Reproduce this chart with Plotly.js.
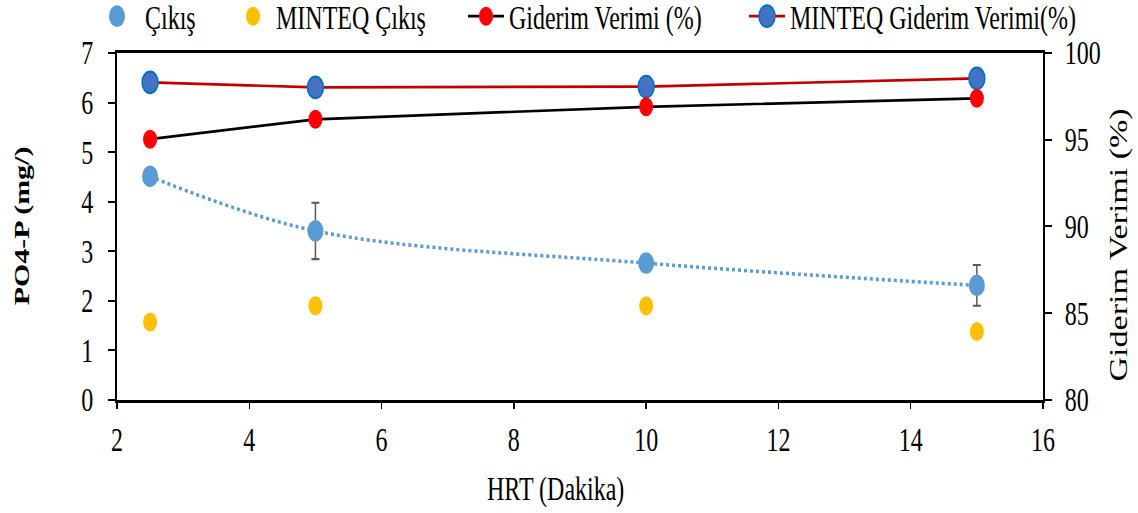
<!DOCTYPE html>
<html>
<head>
<meta charset="utf-8">
<script src="https://cdn.plot.ly/plotly-3.0.1.min.js"></script>
<style>
  html, body { margin: 0; padding: 0; background: #ffffff; }
  #wrap { width: 1138px; height: 513px; overflow: hidden; }
  #plot { width: 1138px; height: 377px; transform: scaleY(1.36); transform-origin: 0 0; }
</style>
</head>
<body>
<div id="wrap"><div id="plot"></div></div>
<script>
// ---- data ----
const hrt = [2.5, 5, 10, 15];
const cikis = [4.51, 3.41, 2.76, 2.31];
const cikisErr = [0, 0.57, 0.15, 0.41];
const minteqCikis = [1.57, 1.90, 1.90, 1.38];
const giderimVerimi = [95.03, 96.18, 96.90, 97.39];
const minteqGiderimVerimi = [98.31, 98.02, 98.06, 98.54];

const seriesNames = ["Çıkış", "MINTEQ Çıkış", "Giderim Verimi (%)", "MINTEQ Giderim Verimi(%)"];
const xTitle = "HRT (Dakika)";
const yTitle = "PO4-P (mg/)";
const y2Title = "Giderim Verimi (%)";

const FONT = '"Liberation Serif", "Times New Roman", Times, serif';

const traces = [
  { // smoothed dotted line of Çıkış
    x: hrt, y: cikis, type: 'scatter', mode: 'lines',
    line: { color: '#5B9BD5', width: 2.6, dash: 'dot', shape: 'spline' },
    showlegend: false, hoverinfo: 'skip'
  },
  {
    x: hrt, y: cikis, type: 'scatter', mode: 'markers', name: seriesNames[0],
    marker: { color: '#5B9BD5', size: 16 },
    error_y: { type: 'data', array: cikisErr, visible: true, color: '#595959', thickness: 1.5, width: 4 },
    legend: 'legend'
  },
  {
    x: hrt, y: minteqCikis, type: 'scatter', mode: 'markers', name: seriesNames[1],
    marker: { color: '#FFC000', size: 14 },
    legend: 'legend2'
  },
  {
    x: hrt, y: minteqGiderimVerimi, type: 'scatter', mode: 'lines+markers', name: seriesNames[3],
    yaxis: 'y2',
    line: { color: '#C00000', width: 2 },
    marker: { color: '#4472C4', size: 16, line: { color: '#0070C0', width: 1.5 } },
    legend: 'legend4'
  },
  {
    x: hrt, y: giderimVerimi, type: 'scatter', mode: 'lines+markers', name: seriesNames[2],
    yaxis: 'y2',
    line: { color: '#000000', width: 2 },
    marker: { color: '#FF0000', size: 14 },
    legend: 'legend3'
  }
];

function leg(xpx, iw) {
  return {
    xref: 'container', yref: 'container',
    x: xpx / 1138, y: 1 - 12.3 / 377, xanchor: 'left', yanchor: 'middle',
    orientation: 'h', bgcolor: 'rgba(0,0,0,0)', borderwidth: 0,
    itemwidth: iw, font: { family: FONT, size: 24, color: '#000' }
  };
}

const layout = {
  width: 1138, height: 377,
  margin: { l: 117, r: 95, t: 39, b: 83, pad: 0 },
  paper_bgcolor: '#ffffff', plot_bgcolor: '#ffffff',
  font: { family: FONT, size: 24, color: '#000' },
  showlegend: true,
  legend: leg(89, 46),
  legend2: leg(230, 36),
  legend3: leg(463, 36),
  legend4: leg(744, 36),
  xaxis: {
    range: [2, 16], dtick: 2, tick0: 2,
    showgrid: false, zeroline: false,
    showline: true, linecolor: '#000', linewidth: 2, mirror: true,
    ticks: 'outside', ticklen: 5, tickwidth: 1.5, tickcolor: '#000',
    ticklabelstandoff: 2,
    tickfont: { family: FONT, size: 24, color: '#000' }
  },
  yaxis: {
    range: [0, 7], dtick: 1,
    showgrid: false, zeroline: false,
    showline: true, linecolor: '#000', linewidth: 2,
    ticks: 'outside', ticklen: 7, tickwidth: 1.5, tickcolor: '#000',
    ticklabelstandoff: 10,
    tickfont: { family: FONT, size: 24, color: '#000' }
  },
  yaxis2: {
    range: [80, 100], dtick: 5, overlaying: 'y', side: 'right',
    showgrid: false, zeroline: false,
    showline: true, linecolor: '#000', linewidth: 2,
    ticks: 'outside', ticklen: 7, tickwidth: 1.5, tickcolor: '#000',
    ticklabelstandoff: 8,
    tickfont: { family: FONT, size: 24, color: '#000' }
  },
  annotations: [
    { text: xTitle, xref: 'paper', yref: 'paper', x: (555 - 117) / 926, y: -(360 - 294) / 255,
      xanchor: 'center', yanchor: 'middle', showarrow: false,
      font: { family: FONT, size: 24, color: '#000' } },
    { text: '<b>' + yTitle + '</b>', xref: 'paper', yref: 'paper', x: (22 - 117) / 926, y: 0.5,
      xanchor: 'center', yanchor: 'middle', showarrow: false, textangle: -90,
      font: { family: FONT, size: 22, color: '#000' } },
    { text: y2Title, xref: 'paper', yref: 'paper', x: (1119 - 117) / 926, y: 1 - (180.5 - 39) / 255,
      xanchor: 'center', yanchor: 'middle', showarrow: false, textangle: -90,
      font: { family: FONT, size: 25, color: '#000' } }
  ]
};

Plotly.newPlot('plot', traces, layout, { staticPlot: true, displayModeBar: false });
</script>
</body>
</html>
